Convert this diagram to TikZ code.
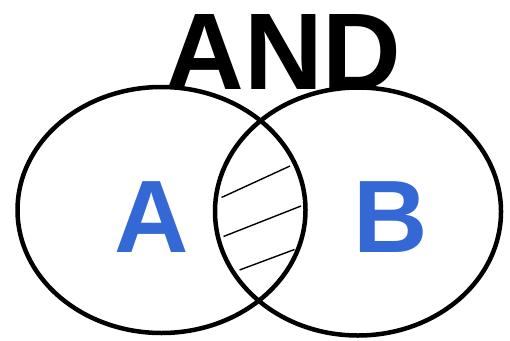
\documentclass[tikz,border=0pt]{standalone}
\usepackage{fontspec}
\setmainfont{Liberation Sans}
\usepackage{xcolor}
\definecolor{setblue}{RGB}{52,104,212}

\begin{document}
\begin{tikzpicture}[
  x=1pt, y=-1pt,
  setline/.style={draw, line width=4.5pt},
  hatch/.style={draw, line width=1.4pt},
  title/.style={font=\fontsize{109}{109}\selectfont\bfseries, anchor=base, inner sep=0pt},
  setname/.style={font=\fontsize{103}{103}\selectfont\bfseries, text=setblue, anchor=base, inner sep=0pt}
]
  \useasboundingbox (0,0) rectangle (510,340);
  % the two sets
  \draw[setline] (161.5,210) ellipse [x radius=144, y radius=123];
  \draw[setline] (358,211.5) ellipse [x radius=143, y radius=124];
  % hatching of the overlap
  \coordinate (h1a) at (221.5,197.5); \coordinate (h1b) at (290,166);
  \coordinate (h2a) at (223.5,236.5); \coordinate (h2b) at (301,206);
  \coordinate (h3a) at (239.5,270);   \coordinate (h3b) at (294.5,249.5);
  \draw[hatch] (h1a) -- (h1b);
  \draw[hatch] (h2a) -- (h2b);
  \draw[hatch] (h3a) -- (h3b);
  % labels
  \node[title]   (and)  at (283.5,89) {AND};
  \node[setname] (setA) at (152,252)  {A};
  \node[setname] (setB) at (391,252)  {B};
\end{tikzpicture}
\end{document}
